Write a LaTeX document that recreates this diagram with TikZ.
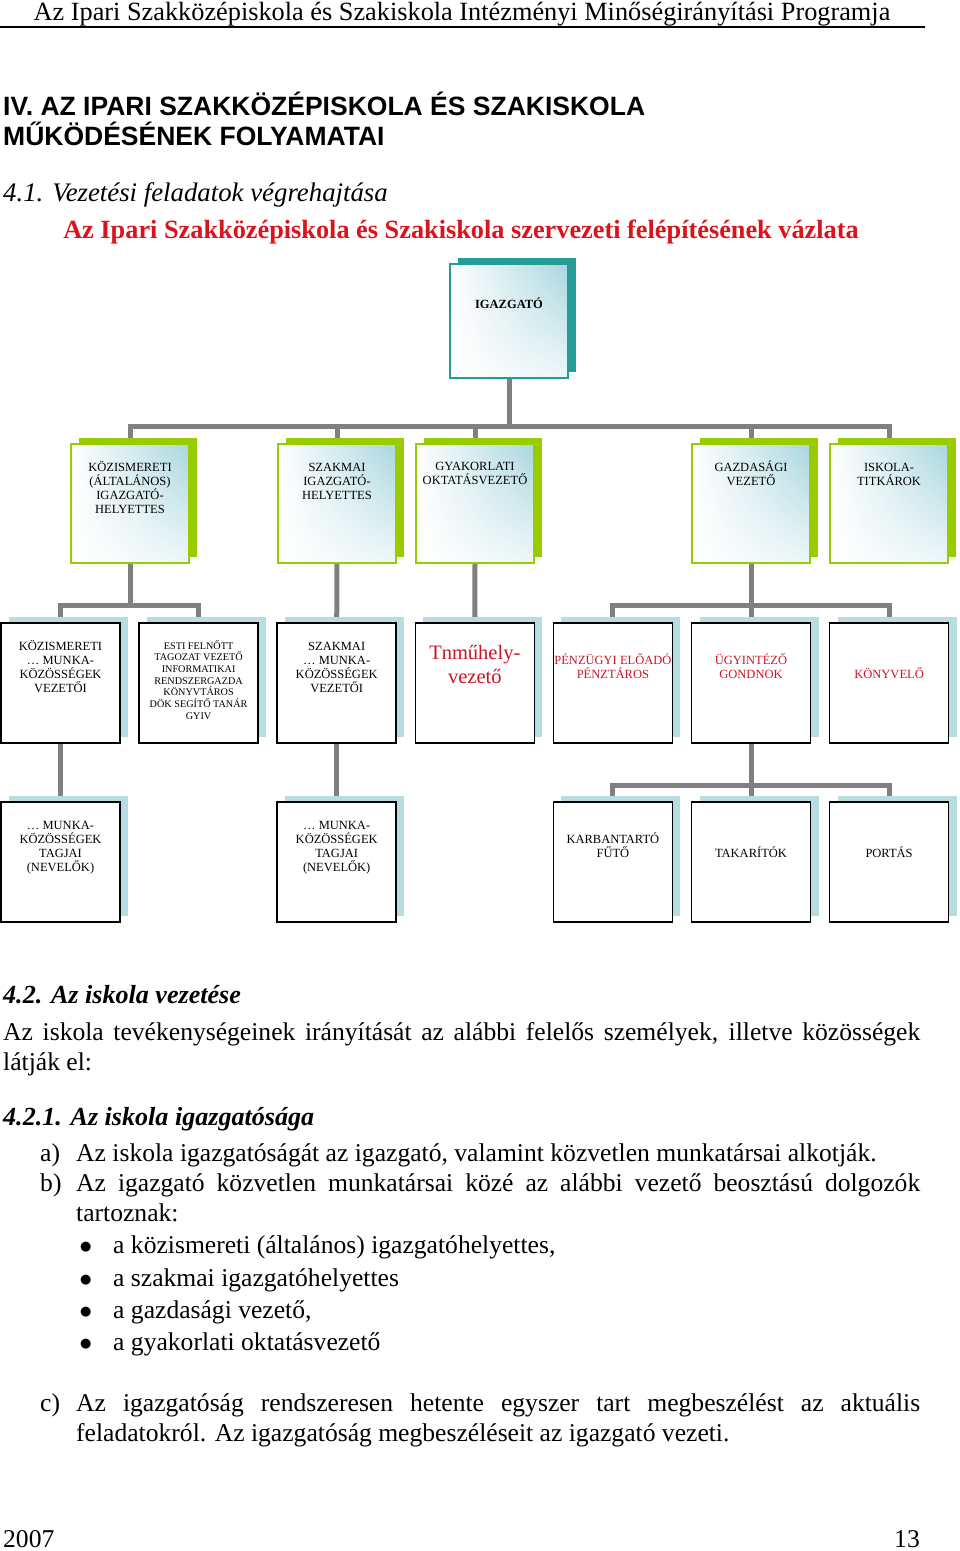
\documentclass[tikz,border=0pt]{standalone}
\usepackage{fontspec}
\setmainfont{Liberation Serif}
\setsansfont{Liberation Sans}
\newfontfamily\dotfont{DejaVu Sans}
\usetikzlibrary{positioning,shadows,shadings,backgrounds}

\definecolor{linkgray}{RGB}{128,128,128}
\definecolor{tealdark}{RGB}{38,156,150}
\definecolor{tealtint}{RGB}{168,214,222}
\definecolor{leafgreen}{RGB}{153,204,0}
\definecolor{paleblue}{RGB}{183,221,227}
\definecolor{titlered}{RGB}{218,20,28}
\definecolor{boxred}{RGB}{200,22,40}

\newcommand{\bodyfont}{\fontsize{25.6}{30}\selectfont}
\newcommand{\boxfont}{\fontsize{12.5}{14}\selectfont}
\newcommand{\tinyboxfont}{\fontsize{10.2}{11.7}\selectfont}

\begin{document}
\begin{tikzpicture}[x=1pt, y=-1pt,
    link/.style={draw=linkgray, line width=5pt},
    orgbox/.style={minimum width=118pt, minimum height=119pt, inner sep=0pt},
    tintfill/.style={lower left=white, upper left=white, lower right=white!80!tealtint, upper right=tealtint},
    headbox/.style={orgbox, minimum height=114pt, draw=tealdark, line width=1.2pt, tintfill,
        general shadow={fill=tealdark, shadow xshift=8pt, shadow yshift=6pt}},
    greenbox/.style={orgbox, draw=leafgreen, line width=1.5pt, tintfill,
        general shadow={fill=leafgreen, shadow xshift=8pt, shadow yshift=6pt}},
    plainbox/.style={orgbox, minimum width=119pt, minimum height=120pt, draw=black, line width=1.5pt, fill=white,
        general shadow={fill=paleblue, shadow xshift=8pt, shadow yshift=6pt}},
    boxtext/.style={font=\boxfont, align=center, anchor=base, inner sep=0pt},
    bodytext/.style={font=\bodyfont, anchor=base west, inner sep=0pt}]
  \useasboundingbox (0,0) rectangle (960,1551);

  % Page header
  \node[font=\fontsize{26.3}{30}\selectfont, anchor=base, inner sep=0pt] (header) at (462,20)
    {Az Ipari Szakközépiskola és Szakiskola Intézményi Minőségirányítási Programja};
  \draw[line width=1.3pt] (0,27) -- (925,27);

  % Chapter title
  \node[bodytext, font=\fontsize{26.5}{30}\sffamily\bfseries, align=left] (chapter) at (3,145)
    {IV. AZ IPARI SZAKKÖZÉPISKOLA ÉS SZAKISKOLA\\MŰKÖDÉSÉNEK FOLYAMATAI};
  \node[bodytext, font=\fontsize{26.8}{30}\selectfont\itshape] (sec41) at (3,201) {4.1. Vezetési feladatok végrehajtása};
  \node[bodytext, anchor=base, font=\fontsize{26.3}{30}\selectfont\bfseries, text=titlered] (charttitle) at (461,238)
    {Az Ipari Szakközépiskola és Szakiskola szervezeti felépítésének vázlata};

  % Level 1
  \node[headbox] (igaz) at (509,321) {};
  \node[boxtext, font=\boxfont\bfseries] at ([yshift=-45pt]igaz.north) {IGAZGATÓ};

  % Level 2
  \node[greenbox] (kozh) at (130,503.5) {};
  \node[greenbox] (szh)  at (337,503.5) {};
  \node[greenbox] (gyak) at (475,503.5) {};
  \node[greenbox] (gazd) at (751,503.5) {};
  \node[greenbox] (iskt) at (889,503.5) {};
  \node[boxtext] at ([yshift=-70pt]kozh.north) {KÖZISMERETI\\(ÁLTALÁNOS)\\IGAZGATÓ-\\HELYETTES};
  \node[boxtext] at ([yshift=-56pt]szh.north) {SZAKMAI\\IGAZGATÓ-\\HELYETTES};
  \node[boxtext] at ([yshift=-41pt]gyak.north) {GYAKORLATI\\OKTATÁSVEZETŐ};
  \node[boxtext] at ([yshift=-42pt]gazd.north) {GAZDASÁGI\\VEZETŐ};
  \node[boxtext] at ([yshift=-42pt]iskt.north) {ISKOLA-\\TITKÁROK};

  % Level 3
  \node[plainbox] (kmv)  at (60.5,683) {};
  \node[plainbox] (esti) at (198.6,683) {};
  \node[plainbox] (szmv) at (336.7,683) {};
  \node[plainbox] (tnm)  at (474.8,683) {};
  \node[plainbox] (penz) at (612.9,683) {};
  \node[plainbox] (ugy)  at (751,683) {};
  \node[plainbox] (kony) at (889.1,683) {};
  \node[boxtext] at ([yshift=-70pt]kmv.north) {KÖZISMERETI\\… MUNKA-\\KÖZÖSSÉGEK\\VEZETŐI};
  \node[boxtext, font=\tinyboxfont] at ([yshift=-97pt]esti.north)
    {ESTI FELNŐTT\\TAGOZAT VEZETŐ\\INFORMATIKAI\\RENDSZERGAZDA\\KÖNYVTÁROS\\DÖK SEGÍTŐ TANÁR\\GYIV};
  \node[boxtext] at ([yshift=-70pt]szmv.north) {SZAKMAI\\… MUNKA-\\KÖZÖSSÉGEK\\VEZETŐI};
  \node[boxtext, font=\fontsize{20.5}{24}\selectfont, text=boxred] at ([yshift=-61pt]tnm.north) {Tnműhely-\\vezető};
  \node[boxtext, text=boxred] at ([yshift=-56pt]penz.north) {PÉNZÜGYI ELŐADÓ\\PÉNZTÁROS};
  \node[boxtext, text=boxred] at ([yshift=-56pt]ugy.north) {ÜGYINTÉZŐ\\GONDNOK};
  \node[boxtext, text=boxred] at ([yshift=-56pt]kony.north) {KÖNYVELŐ};

  % Level 4
  \node[plainbox] (kmt)  at (60.5,862) {};
  \node[plainbox] (szmt) at (336.7,862) {};
  \node[plainbox] (karb) at (612.9,862) {};
  \node[plainbox] (tak)  at (751,862) {};
  \node[plainbox] (port) at (889.1,862) {};
  \node[boxtext] at ([yshift=-70pt]kmt.north) {… MUNKA-\\KÖZÖSSÉGEK\\TAGJAI\\(NEVELŐK)};
  \node[boxtext] at ([yshift=-70pt]szmt.north) {… MUNKA-\\KÖZÖSSÉGEK\\TAGJAI\\(NEVELŐK)};
  \node[boxtext] at ([yshift=-56pt]karb.north) {KARBANTARTÓ\\FŰTŐ};
  \node[boxtext] at ([yshift=-56pt]tak.north) {TAKARÍTÓK};
  \node[boxtext] at ([yshift=-56pt]port.north) {PORTÁS};

  % Connectors behind the boxes
  \begin{scope}[on background layer]
    \draw[link] (igaz.south) -- (igaz.south |- 0,426) coordinate (busa);
    \draw[link] (kozh.north) |- (busa) -| (iskt.north);
    \draw[link] (szh.north) -- (szh.north |- busa);
    \draw[link] (gyak.north) -- (gyak.north |- busa);
    \draw[link] (gazd.north) -- (gazd.north |- busa);
    \draw[link] (kozh.south) -- (kozh.south |- 0,605) coordinate (busb);
    \draw[link] (kmv.north) |- (busb) -| (esti.north);
    \draw[link] (szh.south) -- (szmv.north);
    \draw[link] (gyak.south) -- (tnm.north);
    \draw[link] (gazd.south) -- (gazd.south |- 0,605) coordinate (busc);
    \draw[link] (penz.north) |- (busc) -| (kony.north);
    \draw[link] (ugy.north) -- (busc);
    \draw[link] (kmv.south) -- (kmt.north);
    \draw[link] (szmv.south) -- (szmt.north);
    \draw[link] (ugy.south) -- (ugy.south |- 0,785) coordinate (busd);
    \draw[link] (karb.north) |- (busd) -| (port.north);
    \draw[link] (tak.north) -- (busd);
  \end{scope}

  % Text below the chart
  \node[bodytext, font=\fontsize{26.1}{30}\selectfont\bfseries\itshape] (sec42) at (3,1003) {4.2. Az iskola vezetése};
  \node[bodytext] (lead1) at (3,1040)
    {\makebox[917pt][s]{Az iskola tevékenységeinek irányítását az alábbi felelős személyek, illetve közösségek}};
  \node[bodytext] (lead2) at (3,1070) {látják el:};
  \node[bodytext, font=\fontsize{26.1}{30}\selectfont\bfseries\itshape] (sec421) at (3,1125) {4.2.1. Az iskola igazgatósága};
  \node[bodytext] (itema) at (40,1161) {a)};
  \node[bodytext] (itemat) at (76,1161) {Az iskola igazgatóságát az igazgató, valamint közvetlen munkatársai alkotják.};
  \node[bodytext] (itemb) at (40,1191) {b)};
  \node[bodytext] (itembt) at (76,1191)
    {\makebox[844pt][s]{Az igazgató közvetlen munkatársai közé az alábbi vezető beosztású dolgozók}};
  \node[bodytext] (itemb2) at (76,1221) {tartoznak:};
  \foreach \y/\txt [count=\i] in {1253/{a közismereti (általános) igazgatóhelyettes,},
      1286/{a szakmai igazgatóhelyettes}, 1318/{a gazdasági vezető,}, 1350/{a gyakorlati oktatásvezető}} {
    \node[bodytext, font=\fontsize{13}{14}\dotfont] (dot\i) at (80,\y-3) {●};
    \node[bodytext] (bul\i) at (113,\y) {\txt};
  }
  \node[bodytext] (itemc) at (40,1411) {c)};
  \node[bodytext] (itemct) at (76,1411)
    {\makebox[844pt][s]{Az igazgatóság rendszeresen hetente egyszer tart megbeszélést az aktuális}};
  \node[bodytext] (itemc2) at (76,1441) {feladatokról. Az igazgatóság megbeszéléseit az igazgató vezeti.};

  % Footer
  \node[bodytext] (year) at (3,1547) {2007};
  \node[bodytext, anchor=base east] (page) at (920,1547) {13};
\end{tikzpicture}
\end{document}
